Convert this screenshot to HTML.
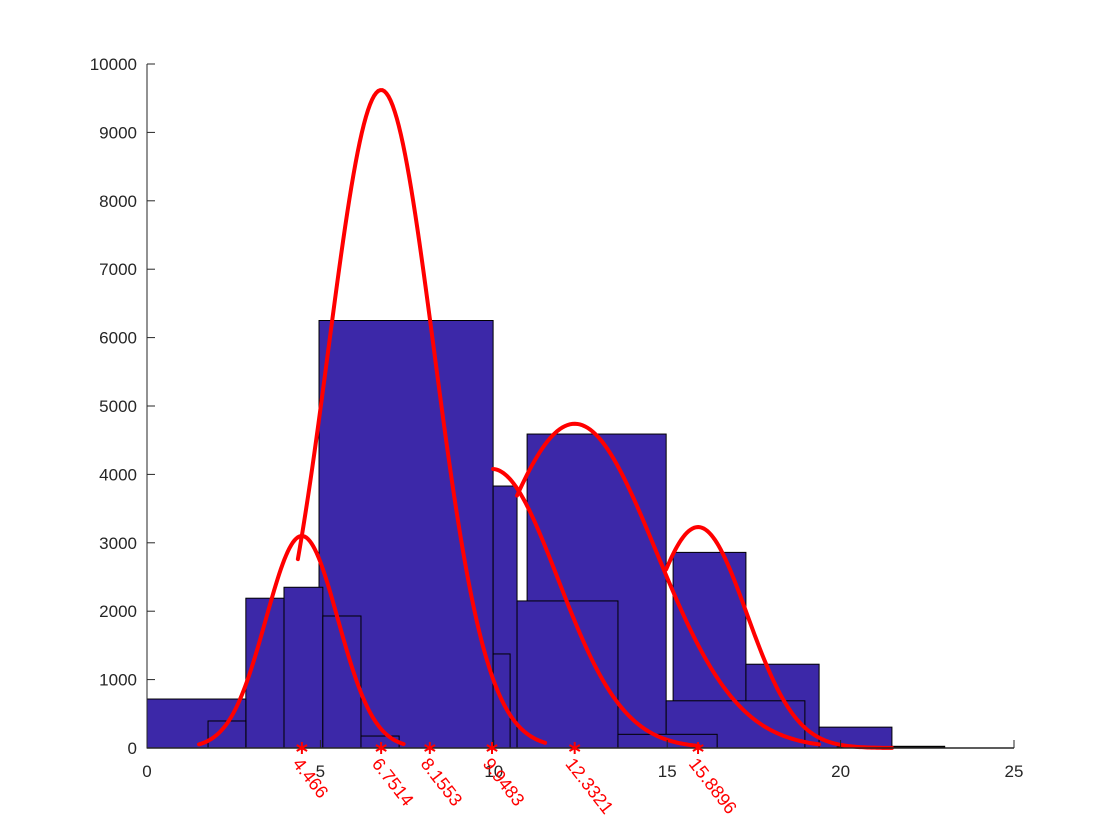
<!DOCTYPE html>
<html><head><meta charset="utf-8"><style>
body{margin:0;background:#fff}
svg{display:block}
text{font-family:"Liberation Sans",sans-serif}
</style></head><body>
<svg id="chart" width="1120" height="840" xmlns="http://www.w3.org/2000/svg">
<rect width="1120" height="840" fill="#fff"/>
<g id="bars"></g>
<g id="curves"></g>
<g id="axes"></g>
<g id="markers"></g>
</svg>
<script>
const barStarts = [0, 1.76, 2.85, 3.95, 5.07, 6.17, 4.96, 9.98, 9.98, 10.67, 10.96, 13.58, 14.97, 15.17, 17.27, 19.38, 21.48, 19.9];
const barEnds   = [2.85, 2.85, 3.95, 5.07, 6.17, 7.27, 9.98, 10.67, 10.47, 13.58, 14.97, 16.44, 18.97, 17.27, 19.38, 21.48, 23.0, 23.0];
const barHeights= [716, 395, 2190, 2350, 1930, 175, 6250, 3830, 1375, 2150, 4590, 200, 690, 2860, 1225, 305, 25, 15];
const curveMeans = [4.466, 6.7514, 9.9483, 12.3321, 15.8896];
const curvePeaks = [3100, 9620, 4080, 4740, 3230];
const curveSigmas = [1.04, 1.52, 1.9, 2.35, 1.41];
const curveStarts = [1.5, 4.35, 9.98, 10.67, 14.97];
const curveEnds = [7.4, 11.48, 15.9, 19.38, 21.48];
const markerValues = [4.466, 6.7514, 8.1553, 9.9483, 12.3321, 15.8896];
const markerLabels = ["4.466", "6.7514", "8.1553", "9.9483", "12.3321", "15.8896"];
const xTicks = [0, 5, 10, 15, 20, 25];
const yTicks = [0, 1000, 2000, 3000, 4000, 5000, 6000, 7000, 8000, 9000, 10000];

const X0 = 147, X1 = 1014, Y0 = 748, Y1 = 64;
const sx = v => X0 + (v / 25) * (X1 - X0);
const sy = v => Y0 - (v / 10000) * (Y0 - Y1);
const NS = "http://www.w3.org/2000/svg";
function mk(tag, attrs, parent) {
  const e = document.createElementNS(NS, tag);
  for (const k in attrs) e.setAttribute(k, attrs[k]);
  parent.appendChild(e);
  return e;
}
const gb = document.getElementById('bars');
const order = barHeights.map((h, i) => i).sort((a, b) => barHeights[b] - barHeights[a]);
for (const i of order) {
  const x = sx(barStarts[i]), w = sx(barEnds[i]) - x, y = sy(barHeights[i]);
  const r = mk('rect', {x: x, y: y, width: w, height: Y0 - y, fill: '#3c28a8', stroke: '#000', 'stroke-width': 1}, gb);
  
  
}
const gc = document.getElementById('curves');
for (let i = 0; i < curveMeans.length; i++) {
  let d = '';
  const n = 120;
  for (let k = 0; k <= n; k++) {
    const xv = curveStarts[i] + (curveEnds[i] - curveStarts[i]) * k / n;
    const yv = curvePeaks[i] * Math.exp(-Math.pow(xv - curveMeans[i], 2) / (2 * curveSigmas[i] * curveSigmas[i]));
    d += (k ? 'L' : 'M') + sx(xv).toFixed(2) + ',' + sy(yv).toFixed(2);
  }
  const p = mk('path', {d: d, fill: 'none', stroke: '#f00', 'stroke-width': 4, 'stroke-linecap': 'round'}, gc);
  
  
}
const ga = document.getElementById('axes');
mk('line', {x1: X0, y1: Y1, x2: X0, y2: Y0, stroke: '#262626', 'stroke-width': 1}, ga);
mk('line', {x1: X0, y1: Y0, x2: X1, y2: Y0, stroke: '#262626', 'stroke-width': 1.5}, ga);
for (const t of yTicks) {
  mk('line', {x1: X0, y1: sy(t), x2: X0 + 8, y2: sy(t), stroke: '#262626'}, ga);
  const tx = mk('text', {x: 137, y: sy(t) + 6, 'text-anchor': 'end', 'font-size': 17, fill: '#262626'}, ga);
  tx.textContent = t;
  
  
}
for (const t of xTicks) {
  mk('line', {x1: sx(t), y1: Y0, x2: sx(t), y2: Y0 - 8, stroke: '#262626'}, ga);
  const tx = mk('text', {x: sx(t), y: 777, 'text-anchor': 'middle', 'font-size': 17, fill: '#262626'}, ga);
  tx.textContent = t;
  
  
}
const gm = document.getElementById('markers');
for (let i = 0; i < markerValues.length; i++) {
  const x = sx(markerValues[i]);
  const star = mk('g', {stroke: '#f00', 'stroke-width': 2}, gm);
  
  
  for (const a of [90, 30, 150]) {
    const r = a * Math.PI / 180, dx = 6 * Math.cos(r), dy = 6 * Math.sin(r);
    mk('line', {x1: x - dx, y1: Y0 - dy, x2: x + dx, y2: Y0 + dy}, star);
  }
  const lx = x - 10, ly = Y0 + 16;
  const l = mk('text', {x: lx, y: ly, 'font-size': 18, fill: '#f00', transform: 'rotate(52 ' + lx + ' ' + ly + ')'}, gm);
  l.textContent = markerLabels[i];
  
  
}
</script>
</body></html>
